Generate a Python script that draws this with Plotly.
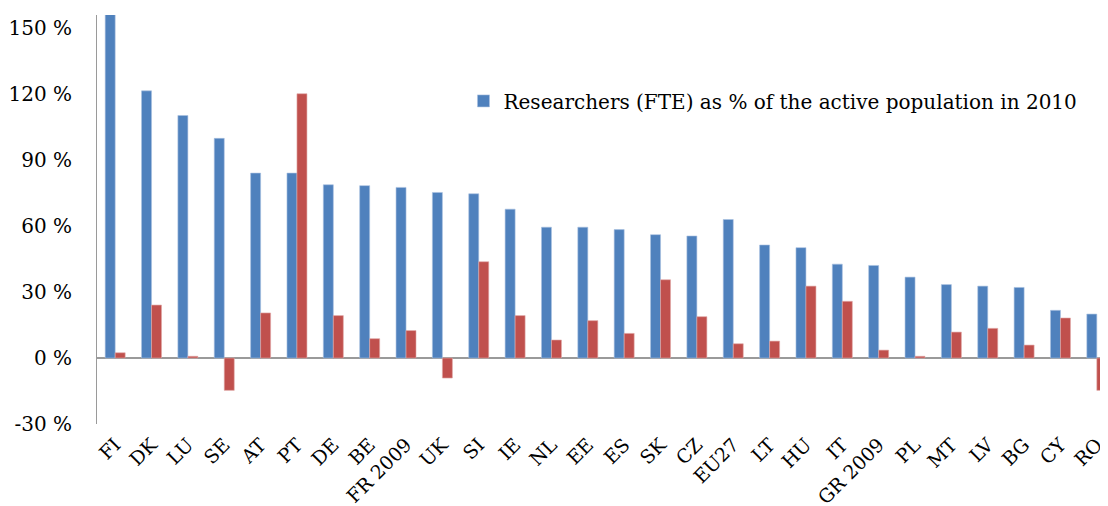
import plotly.graph_objects as go

countries = ["FI", "DK", "LU", "SE", "AT", "PT", "DE", "BE", "FR 2009", "UK", "SI", "IE", "NL", "EE",
             "ES", "SK", "CZ", "EU27", "LT", "HU", "IT", "GR 2009", "PL", "MT", "LV", "BG", "CY", "RO"]
researchers_2010 = [160, 121.5, 110.3, 99.9, 84.1, 84.1, 78.8, 78.4, 77.6, 75.3, 74.7, 67.7, 59.5, 59.5,
                    58.4, 56.1, 55.5, 63.0, 51.4, 50.2, 42.7, 42.1, 36.8, 33.4, 32.7, 32.1, 21.7, 20.0]
change_series = [2.4, 24.1, 0.8, -14.7, 20.5, 120.2, 19.3, 8.8, 12.5, -9.1, 43.8, 19.3, 8.2, 17.0,
                 11.2, 35.6, 18.8, 6.5, 7.7, 32.7, 25.8, 3.6, 0.8, 11.8, 13.5, 5.9, 18.2, -14.7]
y_ticks = [-30, 0, 30, 60, 90, 120, 150]
y_tick_labels = ["-30 %", "0 %", "30 %", "60 %", "90 %", "120 %", "150 %"]

BLUE = "#4F81BD"
RED = "#C0504D"
FONT = "DejaVu Serif"

fig = go.Figure()
fig.add_trace(go.Bar(
    x=countries, y=researchers_2010,
    name="Researchers (FTE) as % of the active population in 2010",
    marker=dict(color=BLUE, line=dict(color="#a9c1e0", width=0.6)),
))
fig.add_trace(go.Bar(
    x=countries, y=change_series,
    name="Second series",
    marker=dict(color=RED, line=dict(color="#e0a9a8", width=0.6)),
    showlegend=False,
))

fig.update_layout(
    width=1108, height=506,
    margin=dict(l=89, r=1, t=7, b=90),
    paper_bgcolor="white", plot_bgcolor="white",
    barmode="group", bargap=0.45, bargroupgap=0,
    font=dict(family=FONT, size=19, color="#000000"),
    showlegend=True,
    legend=dict(x=0.36, y=0.79, xanchor="left", yanchor="middle",
                font=dict(family=FONT, size=20), itemwidth=30,
                bgcolor="rgba(0,0,0,0)"),
    xaxis=dict(
        type="category", automargin=False,
        tickangle=-45, showline=False, showgrid=False, ticks="",
        tickfont=dict(family=FONT, size=19), ticklabelstandoff=5,
    ),
    yaxis=dict(
        range=[-30, 156], tickvals=y_ticks, ticktext=y_tick_labels, automargin=False,
        showgrid=False, showline=True, linecolor="#9a9a9a", linewidth=1,
        zeroline=True, zerolinecolor="#9a9a9a", zerolinewidth=1.5,
        ticks="", ticklabelstandoff=20,
        tickfont=dict(family=FONT, size=20),
    ),
)

fig.write_html("out.html")
